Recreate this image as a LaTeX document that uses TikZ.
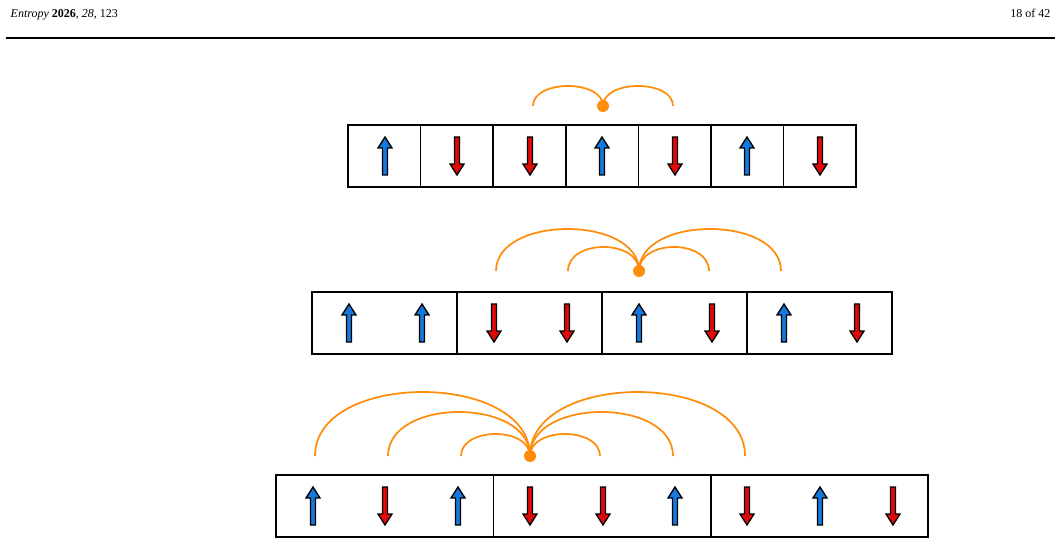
\documentclass[tikz,border=0pt]{standalone}
\usepackage{fontspec}
\setmainfont{Liberation Serif}
\definecolor{spinblue}{RGB}{20,120,220}
\definecolor{spinred}{RGB}{225,10,10}
\definecolor{arcorange}{RGB}{255,140,10}
\begin{document}
\begin{tikzpicture}[x=0.75pt,y=-0.75pt,
  cellbox/.style={draw=black,line width=1.2pt},
  arcline/.style={draw=arcorange,line width=1.3pt},
  dotnode/.style={circle,fill=arcorange,inner sep=0pt,minimum size=9pt}]
\useasboundingbox (0,0) rectangle (1060,545);
\node[anchor=base west,font=\small] (hdr) at (6,18) {\textit{Entropy} \textbf{2026}, \textit{28}, 123};
\node[anchor=base east,font=\small] (pg) at (1055,18) {18 of 42};
\draw[line width=0.8pt] (6,38) -- (1055,38);
% up arrow: #1 x, #2 top y
\newcommand{\upspin}[2]{\filldraw[fill=spinblue,draw=black,line width=1pt,line join=miter]
 (#1-2.5,#2+38)--(#1-2.5,#2+11)--(#1-7,#2+11)--(#1,#2)--(#1+7,#2+11)--(#1+2.5,#2+11)--(#1+2.5,#2+38)--cycle;}
\newcommand{\downspin}[2]{\filldraw[fill=spinred,draw=black,line width=1pt,line join=miter]
 (#1-2.5,#2)--(#1-2.5,#2+27)--(#1-7,#2+27)--(#1,#2+38)--(#1+7,#2+27)--(#1+2.5,#2+27)--(#1+2.5,#2)--cycle;}
% arc from dot (#1,#2) to x #3 with top #4
\newcommand{\spinarc}[4]{\draw[arcline] (#3,#2) .. controls (#3,{#2-(#2-#4)/0.75}) and (#1,{#2-(#2-#4)/0.75}) .. (#1,#2);}
% Row 1
\draw[cellbox] (348,125) rectangle (856,187);
\foreach \x in {420.6,493.1,565.7,638.3,710.9,783.4} \draw[cellbox] (\x,125)--(\x,187);
\foreach \x/\s in {385/u,457/d,530/d,602/u,675/d,747/u,820/d}{
  \if\s u \upspin{\x}{137}\else\downspin{\x}{137}\fi}
\spinarc{603}{106}{533}{86}
\spinarc{603}{106}{673}{86}
\node[dotnode] (d1) at (603,106) {};
% Row 2
\draw[cellbox] (312,292) rectangle (892,354);
\foreach \x in {457,602,747} \draw[cellbox] (\x,292)--(\x,354);
\foreach \x/\s in {349/u,422/u,494/d,567/d,639/u,712/d,784/u,857/d}{
  \if\s u \upspin{\x}{304}\else\downspin{\x}{304}\fi}
\spinarc{639}{271}{568}{247}
\spinarc{639}{271}{709}{247}
\spinarc{639}{271}{496}{229}
\spinarc{639}{271}{781}{229}
\node[dotnode] (d2) at (639,271) {};
% Row 3
\draw[cellbox] (276,475) rectangle (928,537);
\foreach \x in {493.3,710.7} \draw[cellbox] (\x,475)--(\x,537);
\foreach \x/\s in {313/u,385/d,458/u,530/d,603/d,675/u,747/d,820/u,893/d}{
  \if\s u \upspin{\x}{487}\else\downspin{\x}{487}\fi}
\spinarc{530}{456}{461}{434}
\spinarc{530}{456}{600}{434}
\spinarc{530}{456}{388}{412}
\spinarc{530}{456}{673}{412}
\spinarc{530}{456}{315}{392}
\spinarc{530}{456}{745}{392}
\node[dotnode] (d3) at (530,456) {};
\end{tikzpicture}
\end{document}
